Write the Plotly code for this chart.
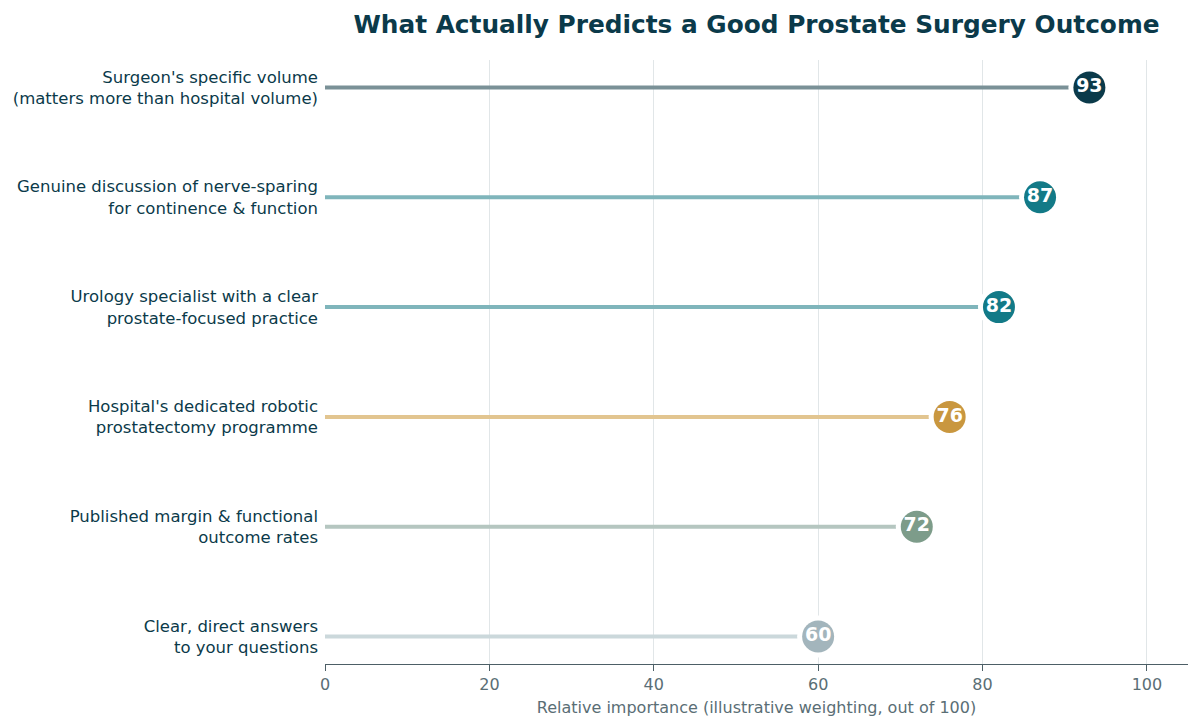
import plotly.graph_objects as go

# rows listed top to bottom
factors = [
    "Surgeon's specific volume<br>(matters more than hospital volume)",
    "Genuine discussion of nerve-sparing<br>for continence & function",
    "Urology specialist with a clear<br>prostate-focused practice",
    "Hospital's dedicated robotic<br>prostatectomy programme",
    "Published margin & functional<br>outcome rates",
    "Clear, direct answers<br>to your questions",
]
scores = [93, 87, 82, 76, 72, 60]
dot_colors = ["#0b3a4a", "#137a87", "#137a87", "#c9973f", "#7d9c8a", "#a3b5bc"]
stem_colors = ["#7a9197", "#7fb5bb", "#7fb5bb", "#e2c590", "#b5c6c0", "#cbd8db"]

fig = go.Figure()

for name, val, dc, sc in zip(factors, scores, dot_colors, stem_colors):
    # stem
    fig.add_trace(go.Scatter(
        x=[0, val], y=[name, name], mode="lines",
        line=dict(color=sc, width=4), hoverinfo="skip", showlegend=False,
    ))
    # white halo so the stem stops short of the dot
    fig.add_trace(go.Scatter(
        x=[val], y=[name], mode="markers",
        marker=dict(size=42, color="white"), hoverinfo="skip", showlegend=False,
    ))
    # dot with score
    fig.add_trace(go.Scatter(
        x=[val], y=[name], mode="markers+text",
        marker=dict(size=32, color=dc),
        text=[str(val)], textposition="middle center",
        textfont=dict(family="DejaVu Sans", size=19, color="white", weight="bold"),
        showlegend=False,
    ))

# page body has an 8px margin, so the figure is 8px smaller each way
fig.update_layout(
    width=1192, height=720,
    paper_bgcolor="white", plot_bgcolor="white",
    margin=dict(l=317, r=12, t=52, b=64),
    font=dict(family="DejaVu Sans", color="#0b3a4a"),
    title=dict(
        text="<b>What Actually Predicts a Good Prostate Surgery Outcome</b>",
        x=0.5, xref="paper", xanchor="center",
        y=0.978, yref="container", yanchor="middle",
        font=dict(family="DejaVu Sans", size=24.8, color="#0b3a4a"),
    ),
)

fig.update_xaxes(
    range=[0, 105], tickvals=[0, 20, 40, 60, 80, 100], automargin=False,
    showgrid=True, gridcolor="#e1e6e8", gridwidth=1, zeroline=False,
    showline=True, linecolor="#4d5f66", linewidth=1,
    ticks="outside", ticklen=6, tickcolor="#4d5f66",
    tickfont=dict(size=16, color="#5a6e75"),
    title=dict(text="Relative importance (illustrative weighting, out of 100)",
               font=dict(size=16, color="#5a6e75"), standoff=8),
)
fig.update_yaxes(
    categoryorder="array", categoryarray=factors[::-1], automargin=False,
    range=[-0.25, 5.25], showgrid=False, zeroline=False, showline=False,
    ticks="", ticklabelstandoff=6,
    tickfont=dict(size=16.5, color="#0b3a4a"),
)

fig.write_html("out.html")
